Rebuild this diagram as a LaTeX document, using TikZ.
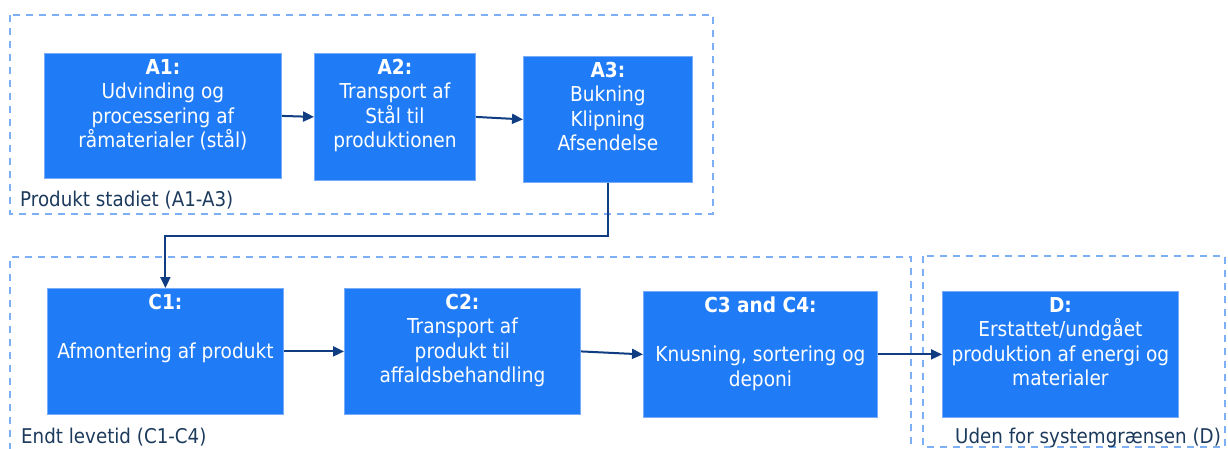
\documentclass[tikz,border=0pt]{standalone}
\usepackage{fontspec}
\setmainfont{DejaVu Sans}[FakeStretch=0.9]
\usetikzlibrary{arrows.meta}
\definecolor{boxblue}{RGB}{32,124,246}
\definecolor{boxedge}{RGB}{120,172,250}
\definecolor{arrowblue}{RGB}{16,60,130}
\definecolor{dashblue}{RGB}{125,175,245}
\definecolor{labeldark}{RGB}{28,58,92}
\tikzset{
  stagebox/.style={draw=boxedge, line width=0.8pt, fill=boxblue, anchor=north west, inner sep=0pt},
  boxtext/.style={anchor=north, align=center, text=white, inner sep=0pt,
    font=\fontsize{20.6}{24.5}\selectfont},
  grouplabel/.style={anchor=base west, text=labeldark, inner sep=0pt,
    font=\fontsize{20.3}{24.5}\selectfont},
  boundary/.style={draw=dashblue, line width=2pt, dash pattern=on 7pt off 6pt},
  flow/.style={draw=arrowblue, line width=2pt, -{Triangle[length=11pt,width=10pt]}},
}
\begin{document}
\begin{tikzpicture}[x=1pt,y=1pt]
\useasboundingbox (0,0) rectangle (1228,-448);
% boundaries
\draw[boundary] (10,-15) rectangle (713,-214);
\draw[boundary] (911,-470) -- (911,-257) -- (10,-257) -- (10,-470);
\draw[boundary] (923,-256) rectangle (1225,-447);
% product stage
\node[stagebox, minimum width=237pt, minimum height=125pt] (a1) at (44,-53) {};
\node[stagebox, minimum width=161pt, minimum height=127pt] (a2) at (314,-53) {};
\node[stagebox, minimum width=169pt, minimum height=126pt] (a3) at (523,-56) {};
\node[boxtext] (a1t) at ([yshift=-6pt]a1.north) {\textbf{A1:}\\Udvinding og\\processering af\\råmaterialer (stål)};
\node[boxtext] (a2t) at ([yshift=-6pt]a2.north) {\textbf{A2:}\\Transport af\\Stål til\\produktionen};
\node[boxtext] (a3t) at ([yshift=-6pt]a3.north) {\textbf{A3:}\\Bukning\\Klipning\\Afsendelse};
% end of life
\node[stagebox, minimum width=236pt, minimum height=126pt] (c1) at (47,-288) {};
\node[stagebox, minimum width=236pt, minimum height=126pt] (c2) at (344,-288) {};
\node[stagebox, minimum width=234pt, minimum height=126pt] (c3) at (643,-291) {};
\node[stagebox, minimum width=236pt, minimum height=126pt] (d) at (942,-291) {};
\node[boxtext] (c1t) at ([yshift=-6pt]c1.north) {\textbf{C1:}\\\mbox{}\\Afmontering af produkt};
\node[boxtext] (c2t) at ([yshift=-6pt]c2.north) {\textbf{C2:}\\Transport af\\produkt til\\affaldsbehandling};
\node[boxtext] (c3t) at ([yshift=-6pt]c3.north) {\textbf{C3 and C4:}\\\mbox{}\\Knusning, sortering og\\deponi};
\node[boxtext] (dt) at ([yshift=-6pt]d.north) {\textbf{D:}\\Erstattet/undgået\\produktion af energi og\\materialer};
% labels
\node[grouplabel] (l1) at (20,-206) {Produkt stadiet (A1-A3)};
\node[grouplabel] (l2) at (21,-443) {Endt levetid (C1-C4)};
\node[grouplabel] (l3) at (955,-443) {Uden for systemgrænsen (D)};
% connectors
\draw[flow] (a1.east) -- (a2.west);
\draw[flow] (a2.east) -- (a3.west);
\coordinate (bend) at ([yshift=-53pt]a3.south);
\draw[flow] (a3.south) -- (bend) -| (c1.north);
\draw[flow] (c1.east) -- (c2.west);
\draw[flow] (c2.east) -- (c3.west);
\draw[flow] (c3.east) -- (d.west);
\end{tikzpicture}
\end{document}
